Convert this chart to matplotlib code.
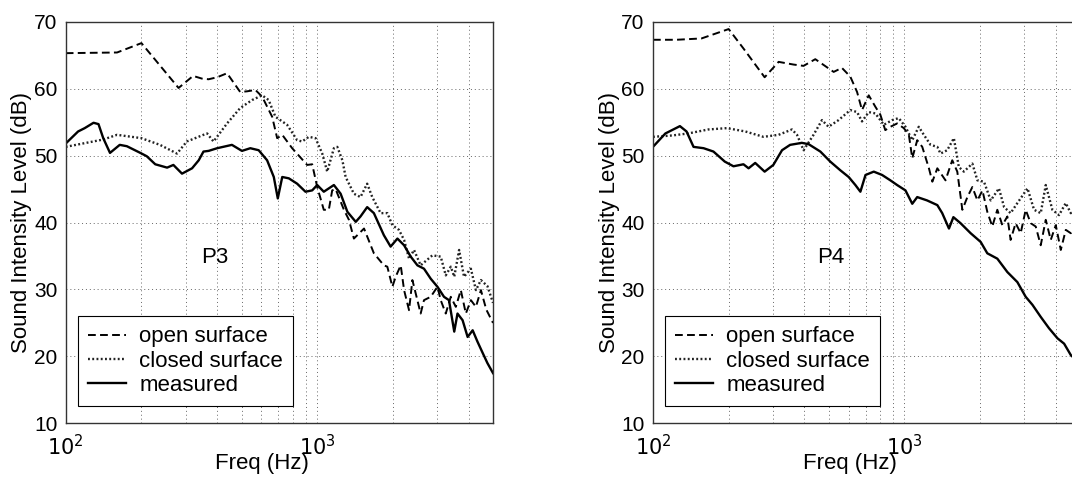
import matplotlib
matplotlib.use('Agg')
import matplotlib.pyplot as plt
from matplotlib.ticker import FixedLocator, NullFormatter

plt.rcParams['font.family'] = ['Liberation Sans', 'DejaVu Sans']

# ---- P3 ----
p3_open_f = [100, 160, 200, 281, 321, 348, 370, 400, 438, 494, 526, 568, 604, 662, 693,
             726, 795, 912, 955, 1000, 1062, 1112, 1147, 1183, 1277, 1337, 1399, 1535, 1680, 1841,
             1900, 1990, 2051, 2148, 2215, 2318, 2390, 2464, 2578, 2658, 2827, 3006, 3098, 3244, 3397,
             3557, 3724, 3899, 4083, 4275, 4476, 4700, 5000]
p3_open_db = [65.3, 65.4, 66.8, 60.1, 61.9, 61.5, 61.4, 61.7, 62.3, 59.5, 59.6, 59.8, 58.8, 55.8, 52.6,
              53.1, 51.1, 48.6, 48.7, 45.3, 41.9, 41.9, 44.8, 45.0, 41.9, 40.4, 37.6, 39.1, 35.4, 33.6,
              33.4, 30.4, 31.9, 33.6, 29.9, 26.9, 31.4, 29.4, 26.4, 28.4, 28.9, 30.4, 28.4, 26.4, 28.9,
              27.4, 29.9, 26.4, 28.4, 27.4, 29.9, 27.0, 25.0]

p3_closed_f = [100, 141, 160, 200, 237, 277, 303, 353, 365, 387, 438, 494, 551, 604, 641,
               682, 759, 832, 871, 926, 985, 1047, 1096, 1165, 1202, 1259, 1297, 1399, 1486, 1580,
               1655, 1787, 1900, 1990, 2113, 2215, 2318, 2426, 2578, 2871, 3098, 3244, 3397, 3506, 3666,
               3834, 4083, 4275, 4476, 4750, 5000]
p3_closed_db = [51.3, 52.4, 53.1, 52.6, 51.6, 50.3, 52.1, 53.1, 53.3, 52.1, 54.8, 57.1, 58.3, 59.0, 58.3,
                55.8, 54.6, 52.3, 52.1, 52.8, 52.6, 50.3, 47.6, 51.1, 51.3, 49.3, 46.8, 44.3, 43.8, 45.8,
                43.8, 41.4, 41.4, 39.6, 38.9, 37.4, 34.6, 35.9, 33.6, 35.1, 34.9, 32.1, 33.4, 31.9, 35.9,
                31.9, 33.1, 29.9, 31.4, 30.5, 28.0]

p3_meas_f = [100, 112, 119, 129, 135, 141, 150, 164, 175, 198, 210, 227, 253, 268, 290,
             318, 338, 353, 370, 400, 458, 502, 542, 585, 632, 672, 697, 726, 771, 832,
             898, 955, 1000, 1062, 1165, 1239, 1318, 1423, 1486, 1580, 1680, 1841, 1958, 2084, 2215,
             2354, 2503, 2658, 2827, 3006, 3192, 3341, 3506, 3612, 3785, 3963, 4150, 4337, 4550, 4750,
             5000]
p3_meas_db = [51.8, 53.6, 54.1, 54.9, 54.7, 52.6, 50.4, 51.6, 51.4, 50.4, 49.9, 48.7, 48.2, 48.6, 47.3,
              48.1, 49.3, 50.6, 50.7, 51.1, 51.6, 50.7, 51.1, 50.8, 49.3, 46.8, 43.6, 46.8, 46.6, 45.8,
              44.6, 44.8, 45.6, 44.6, 45.6, 44.3, 41.6, 40.1, 40.9, 42.3, 41.4, 38.1, 36.4, 37.6, 36.6,
              34.9, 33.6, 33.1, 31.6, 30.4, 28.9, 28.4, 23.7, 26.4, 25.4, 22.9, 23.9, 22.2, 20.5, 19.0,
              17.5]

# ---- P4 ----
p4_open_f = [100, 124, 156, 200, 229, 278, 316, 362, 397, 442, 523, 564, 609, 648, 678,
             721, 766, 802, 839, 879, 935, 994, 1041, 1074, 1124, 1177, 1251, 1291, 1351, 1456,
             1549, 1622, 1699, 1779, 1862, 1950, 2042, 2135, 2235, 2340, 2450, 2565, 2643, 2767, 2898,
             3034, 3177, 3326, 3482, 3646, 3817, 3996, 4184, 4380, 4585, 4800, 5000]
p4_open_db = [67.3, 67.3, 67.5, 68.9, 66.0, 61.7, 64.0, 63.6, 63.4, 64.4, 62.5, 63.1, 61.8, 59.5, 56.8,
              59.0, 57.3, 56.1, 53.8, 54.3, 54.8, 54.1, 53.1, 49.6, 52.3, 51.3, 48.1, 46.1, 48.1, 46.3,
              49.3, 47.6, 41.9, 43.8, 45.3, 43.3, 44.8, 41.6, 39.4, 41.9, 39.6, 40.9, 37.4, 39.9, 38.4,
              41.9, 39.9, 39.4, 36.6, 40.4, 37.4, 39.6, 35.9, 38.9, 38.4, 39.5, 38.5]

p4_closed_f = [100, 119, 138, 166, 197, 233, 275, 316, 357, 374, 397, 435, 470, 499, 547,
               609, 648, 678, 721, 766, 828, 894, 949, 1009, 1074, 1140, 1194, 1270, 1351, 1391,
               1479, 1572, 1645, 1722, 1862, 1950, 2071, 2203, 2375, 2490, 2643, 2811, 3085, 3276, 3482,
               3646, 3874, 4117, 4378, 4585, 4800, 5000]
p4_closed_db = [52.8, 53.0, 53.3, 53.9, 54.1, 53.6, 52.8, 53.1, 53.9, 53.1, 50.8, 53.1, 55.3, 54.3, 55.3,
                56.8, 56.5, 55.1, 56.5, 56.3, 54.6, 55.3, 55.6, 54.3, 52.3, 54.3, 53.1, 51.6, 51.3, 50.3,
                50.8, 52.6, 48.3, 47.6, 48.8, 46.3, 46.1, 43.3, 45.1, 42.3, 41.4, 42.9, 45.1, 41.9, 41.4,
                45.6, 41.9, 41.1, 42.9, 41.4, 42.0, 41.0]

p4_meas_f = [100, 112, 128, 136, 145, 159, 174, 193, 209, 229, 240, 255, 278, 301, 326,
             351, 391, 416, 463, 507, 556, 600, 638, 668, 700, 755, 815, 879, 935, 1009,
             1074, 1124, 1230, 1351, 1413, 1503, 1565, 1671, 1833, 2009, 2135, 2340, 2565, 2811, 3034,
             3228, 3482, 3757, 4059, 4313, 4585, 4800, 5000]
p4_meas_db = [51.3, 53.3, 54.4, 53.6, 51.3, 51.1, 50.6, 49.1, 48.4, 48.7, 48.1, 48.9, 47.6, 48.6, 50.8,
              51.6, 51.9, 51.7, 50.6, 49.1, 47.8, 46.8, 45.6, 44.6, 47.1, 47.6, 47.1, 46.3, 45.6, 44.8,
              42.8, 43.8, 43.3, 42.6, 41.4, 39.1, 40.8, 39.9, 38.4, 37.1, 35.4, 34.6, 32.6, 31.1, 28.9,
              27.7, 25.9, 24.2, 22.7, 21.9, 20.2, 19.5, 18.8]

fig = plt.figure(figsize=(10.72, 4.78), dpi=100)
ax1 = fig.add_axes([0.0613, 0.1144, 0.3986, 0.8402])
ax2 = fig.add_axes([0.6091, 0.1144, 0.3986, 0.8402])

panels = [
    (ax1, 'P3', 393, p3_open_f, p3_open_db, p3_closed_f, p3_closed_db, p3_meas_f, p3_meas_db),
    (ax2, 'P4', 507, p4_open_f, p4_open_db, p4_closed_f, p4_closed_db, p4_meas_f, p4_meas_db),
]

for ax, name, tx, of, od, cf, cd, mf, md in panels:
    ax.plot(of, od, color='black', lw=1.4, linestyle=(0, (4, 2.2)), label='open surface')
    ax.plot(cf, cd, color='#222222', lw=1.7, linestyle=(0, (0.8, 1.0)), label='closed surface')
    ax.plot(mf, md, color='black', lw=1.7, label='measured')
    ax.set_xscale('log')
    ax.set_xlim(100, 5000)
    ax.set_ylim(10, 70)
    ax.set_yticks(range(10, 71, 10))
    ax.xaxis.set_major_locator(FixedLocator([100, 1000]))
    ax.xaxis.set_minor_locator(FixedLocator([200, 300, 400, 500, 600, 700, 800, 900, 2000, 3000, 4000]))
    ax.xaxis.set_minor_formatter(NullFormatter())
    ax.set_xticklabels([r'$10^2$', r'$10^3$'])
    ax.grid(True, which='major', color='#666666', linestyle=(0, (1, 3)), lw=0.7)
    ax.grid(True, which='minor', axis='x', color='#666666', linestyle=(0, (1, 3)), lw=0.7)
    ax.tick_params(which='both', direction='in', length=0, labelsize=15)
    ax.tick_params(axis='y', pad=6)
    ax.tick_params(axis='x', pad=8)
    ax.set_xlabel('Freq (Hz)', fontsize=16)
    ax.xaxis.set_label_coords(0.46, -0.075)
    ax.set_ylabel('Sound Intensity Level (dB)', fontsize=16)
    ax.yaxis.set_label_coords(-0.078, 0.5)
    ax.text(tx, 34.7, name, fontsize=16, ha='center', va='center')
    for s in ax.spines.values():
        s.set_color('#333333')
        s.set_linewidth(1.0)
    leg = ax.legend(loc='lower left', bbox_to_anchor=(0.029, 0.043), borderaxespad=0,
                    fontsize=16, frameon=True, fancybox=False, edgecolor='black',
                    framealpha=1, handlelength=1.7, handletextpad=0.6,
                    labelspacing=0.15, borderpad=0.45)
    leg.get_frame().set_linewidth(0.8)

fig.savefig('out.png', dpi=100)
